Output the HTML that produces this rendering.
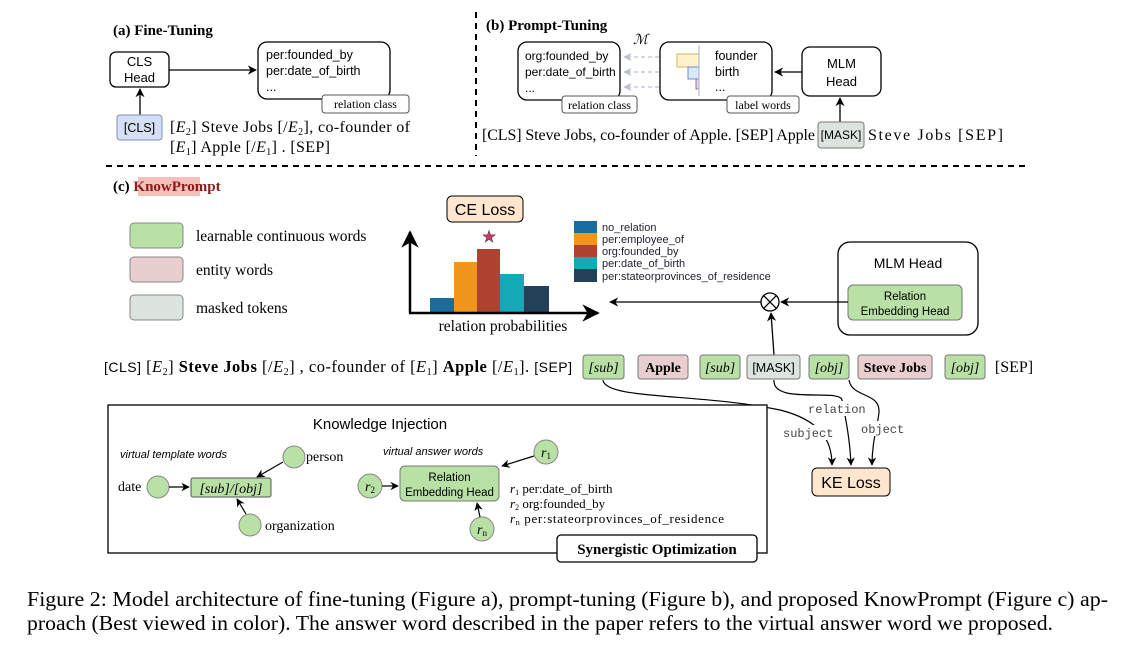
<!DOCTYPE html>
<html><head><meta charset="utf-8"><style>
html,body{margin:0;padding:0;background:#fff;}
svg{display:block;}
.s{font-family:"Liberation Serif",serif;}
.a{font-family:"Liberation Sans",sans-serif;}
.m{font-family:"Liberation Mono",monospace;}
</style></head><body>
<svg width="1148" height="661" viewBox="0 0 1148 661" xmlns="http://www.w3.org/2000/svg">
<defs>
<marker id="ar" viewBox="0 0 10 10" refX="9" refY="5" markerWidth="7" markerHeight="7" orient="auto"><path d="M0,0 L10,5 L0,10 L3,5 z" fill="#000"/></marker>
<marker id="ag" viewBox="0 0 10 10" refX="9" refY="5" markerWidth="7" markerHeight="7" orient="auto"><path d="M0,0 L10,5 L0,10 L3,5 z" fill="#b8c0cc"/></marker>
</defs>
<!-- (a) -->
<text x="113" y="35" class="s" font-size="15" font-weight="bold">(a) Fine-Tuning</text>
<rect x="110" y="52" width="59" height="35" rx="6" fill="#fff" stroke="#000" stroke-width="1.3"/>
<text x="139.5" y="66" class="a" font-size="13" text-anchor="middle">CLS</text>
<text x="139.5" y="82" class="a" font-size="13" text-anchor="middle">Head</text>
<line x1="169" y1="70" x2="256" y2="70" stroke="#000" stroke-width="1.3" marker-end="url(#ar)"/>
<rect x="258" y="42" width="132" height="57" rx="9" fill="#fff" stroke="#000" stroke-width="1.3"/>
<text x="266" y="59" class="a" font-size="12.5">per:founded_by</text>
<text x="266" y="75" class="a" font-size="12.5">per:date_of_birth</text>
<text x="266" y="91" class="a" font-size="12.5">...</text>
<rect x="322" y="95" width="87" height="18" rx="3" fill="#fff" stroke="#555"/>
<text x="365.5" y="108" class="s" font-size="12" text-anchor="middle">relation class</text>
<line x1="140" y1="115" x2="140" y2="89" stroke="#000" stroke-width="1.3" marker-end="url(#ar)"/>
<rect x="117" y="115" width="45" height="25" rx="3" fill="#d6e0f5" stroke="#7f8fb0"/>
<text x="139.5" y="132" class="a" font-size="12.5" text-anchor="middle">[CLS]</text>
<text x="170" y="132" class="s" font-size="16" textLength="240" lengthAdjust="spacing">[<tspan font-style="italic">E</tspan><tspan font-size="10" dy="3">2</tspan><tspan dy="-3">] Steve Jobs [/</tspan><tspan font-style="italic">E</tspan><tspan font-size="10" dy="3">2</tspan><tspan dy="-3">], co-founder of</tspan></text>
<text x="170" y="152" class="s" font-size="16" textLength="160" lengthAdjust="spacing">[<tspan font-style="italic">E</tspan><tspan font-size="10" dy="3">1</tspan><tspan dy="-3">] Apple [/</tspan><tspan font-style="italic">E</tspan><tspan font-size="10" dy="3">1</tspan><tspan dy="-3">] . [SEP]</tspan></text>
<line x1="476" y1="12" x2="476" y2="156" stroke="#000" stroke-width="2" stroke-dasharray="6,5"/>
<line x1="106" y1="166" x2="1030" y2="166" stroke="#000" stroke-width="2" stroke-dasharray="6,5"/>
<!-- (b) -->
<text x="486" y="30" class="s" font-size="15" font-weight="bold">(b) Prompt-Tuning</text>
<rect x="518" y="42" width="102" height="58" rx="9" fill="#fff" stroke="#000" stroke-width="1.3"/>
<text x="525" y="60" class="a" font-size="12">org:founded_by</text>
<text x="525" y="76" class="a" font-size="12">per:date_of_birth</text>
<text x="525" y="92" class="a" font-size="12">...</text>
<rect x="562" y="96" width="75" height="17" rx="3" fill="#fff" stroke="#555"/>
<text x="599.5" y="109" class="s" font-size="12" text-anchor="middle">relation class</text>
<text x="633" y="44" class="s" font-size="14" font-style="italic">ℳ</text>
<line x1="673" y1="57" x2="624" y2="57" stroke="#b8c0cc" stroke-width="1.2" stroke-dasharray="4,3" marker-end="url(#ag)"/>
<line x1="673" y1="72" x2="624" y2="72" stroke="#b8c0cc" stroke-width="1.2" stroke-dasharray="4,3" marker-end="url(#ag)"/>
<line x1="673" y1="87" x2="624" y2="87" stroke="#b8c0cc" stroke-width="1.2" stroke-dasharray="4,3" marker-end="url(#ag)"/>
<rect x="660" y="42" width="112" height="58" rx="9" fill="#fff" stroke="#000" stroke-width="1.3"/>
<rect x="677" y="54" width="22" height="13" fill="#fff2cc" stroke="#d6b656"/>
<rect x="688" y="67" width="11" height="12" fill="#dae8fc" stroke="#6c8ebf"/>
<rect x="696" y="79" width="3" height="10" fill="#e1d5e7" stroke="#9673a6"/>
<line x1="699" y1="45" x2="699" y2="96" stroke="#b0bccc" stroke-width="1.2"/>
<text x="715" y="60" class="a" font-size="12.5">founder</text>
<text x="715" y="76" class="a" font-size="12.5">birth</text>
<text x="715" y="91" class="a" font-size="12.5">...</text>
<rect x="727" y="96" width="72" height="17" rx="3" fill="#fff" stroke="#555"/>
<text x="763" y="109" class="s" font-size="12" text-anchor="middle">label words</text>
<rect x="802" y="47" width="79" height="49" rx="8" fill="#fff" stroke="#000" stroke-width="1.3"/>
<text x="841.5" y="68" class="a" font-size="13" text-anchor="middle">MLM</text>
<text x="841.5" y="86" class="a" font-size="13" text-anchor="middle">Head</text>
<line x1="802" y1="72" x2="775" y2="72" stroke="#000" stroke-width="1.3" marker-end="url(#ar)"/>
<line x1="840" y1="122" x2="840" y2="98" stroke="#000" stroke-width="1.3" marker-end="url(#ar)"/>
<text x="482" y="140" class="s" font-size="16" textLength="333" lengthAdjust="spacing">[CLS] Steve Jobs, co-founder of Apple. [SEP] Apple</text>
<rect x="818" y="122" width="46" height="26" rx="3" fill="#dde3dd" stroke="#777"/>
<text x="841" y="139" class="a" font-size="12" text-anchor="middle">[MASK]</text>
<text x="868" y="140" class="s" font-size="16" textLength="135" lengthAdjust="spacing">Steve Jobs [SEP]</text>
<!-- (c) -->
<rect x="138" y="177" width="62" height="19" fill="#f6c0b8"/>
<text x="113" y="191" class="s" font-size="15" font-weight="bold">(c) <tspan fill="#8b1a1a">KnowPrompt</tspan></text>
<rect x="130" y="223" width="53" height="25" rx="4" fill="#b9e0a5" stroke="#888"/>
<rect x="130" y="257" width="53" height="25" rx="4" fill="#e8cece" stroke="#888"/>
<rect x="130" y="295" width="53" height="25" rx="4" fill="#dde3dd" stroke="#888"/>
<text x="196" y="241" class="s" font-size="15.5">learnable continuous words</text>
<text x="196" y="275" class="s" font-size="15.5">entity words</text>
<text x="196" y="313" class="s" font-size="15.5">masked tokens</text>
<rect x="447" y="196" width="76" height="26" rx="5" fill="#ffe6cc" stroke="#000"/>
<text x="485" y="215" class="a" font-size="16" text-anchor="middle">CE Loss</text>
<text x="489" y="242" font-size="16" fill="#d6336c" text-anchor="middle" stroke="#333" stroke-width="0.5">★</text>
<rect x="430" y="298" width="24" height="15" fill="#1a6e9e"/>
<rect x="454" y="262" width="23" height="51" fill="#f0961f"/>
<rect x="477" y="249" width="23" height="64" fill="#b04232"/>
<rect x="500" y="274" width="24" height="39" fill="#14a9b5"/>
<rect x="524" y="286" width="25" height="27" fill="#24415a"/>
<line x1="410" y1="313" x2="410" y2="232" stroke="#000" stroke-width="2.5" marker-end="url(#ar)"/>
<line x1="409" y1="313" x2="598" y2="313" stroke="#000" stroke-width="2.5" marker-end="url(#ar)"/>
<text x="503" y="331" class="s" font-size="15.5" text-anchor="middle">relation probabilities</text>
<rect x="574" y="221" width="23" height="12" fill="#1a6e9e"/>
<rect x="574" y="233" width="23" height="12" fill="#f0961f"/>
<rect x="574" y="245" width="23" height="12" fill="#b04232"/>
<rect x="574" y="257" width="23" height="12" fill="#14a9b5"/>
<rect x="574" y="269" width="23" height="13" fill="#24415a"/>
<g class="a" font-size="11" fill="#223">
<text x="602" y="231">no_relation</text>
<text x="602" y="243">per:employee_of</text>
<text x="602" y="255">org:founded_by</text>
<text x="602" y="267">per:date_of_birth</text>
<text x="602" y="280">per:stateorprovinces_of_residence</text>
</g>
<line x1="761" y1="302" x2="610" y2="302" stroke="#000" stroke-width="1.3" marker-end="url(#ar)"/>
<circle cx="770" cy="302" r="9" fill="#fff" stroke="#000" stroke-width="1.3"/>
<line x1="763.6" y1="295.6" x2="776.4" y2="308.4" stroke="#000" stroke-width="1.3"/>
<line x1="776.4" y1="295.6" x2="763.6" y2="308.4" stroke="#000" stroke-width="1.3"/>
<rect x="838" y="242" width="140" height="93" rx="12" fill="#fff" stroke="#000" stroke-width="1.3"/>
<text x="908" y="268" class="a" font-size="14" text-anchor="middle">MLM Head</text>
<rect x="848" y="285" width="114" height="35" rx="5" fill="#b9e0a5" stroke="#777"/>
<text x="905" y="300" class="a" font-size="11.5" text-anchor="middle">Relation</text>
<text x="905" y="315" class="a" font-size="11.5" text-anchor="middle">Embedding Head</text>
<line x1="848" y1="302" x2="781" y2="302" stroke="#000" stroke-width="1.3" marker-end="url(#ar)"/>
<line x1="774" y1="355" x2="771" y2="313" stroke="#000" stroke-width="1.3" marker-end="url(#ar)"/>
<text x="104" y="372" class="s" font-size="16.5" textLength="468" lengthAdjust="spacing"><tspan class="a" font-size="14">[CLS]</tspan>  [<tspan font-style="italic">E</tspan><tspan font-size="10" dy="3">2</tspan><tspan dy="-3">] </tspan><tspan font-weight="bold">Steve Jobs</tspan> [/<tspan font-style="italic">E</tspan><tspan font-size="10" dy="3">2</tspan><tspan dy="-3">] , co-founder of  [</tspan><tspan font-style="italic">E</tspan><tspan font-size="10" dy="3">1</tspan><tspan dy="-3">] </tspan><tspan font-weight="bold">Apple</tspan> [/<tspan font-style="italic">E</tspan><tspan font-size="10" dy="3">1</tspan><tspan dy="-3">]. </tspan><tspan class="a" font-size="14">[SEP]</tspan></text>
<g class="s" font-size="14" text-anchor="middle">
<rect x="583" y="355" width="41" height="24" rx="3" fill="#b9e0a5" stroke="#777"/><text x="603.5" y="372" font-style="italic">[sub]</text>
<rect x="638" y="355" width="50" height="24" rx="3" fill="#e8cece" stroke="#777"/><text x="663" y="372" font-weight="bold">Apple</text>
<rect x="700" y="355" width="40" height="24" rx="3" fill="#b9e0a5" stroke="#777"/><text x="720" y="372" font-style="italic">[sub]</text>
<rect x="747" y="355" width="53" height="24" rx="3" fill="#dde3dd" stroke="#777"/><text x="773.5" y="372" class="a" font-size="12.5">[MASK]</text>
<rect x="809" y="355" width="40" height="24" rx="3" fill="#b9e0a5" stroke="#777"/><text x="829" y="372" font-style="italic">[obj]</text>
<rect x="858" y="355" width="74" height="24" rx="3" fill="#e8cece" stroke="#777"/><text x="895" y="372" font-weight="bold">Steve Jobs</text>
<rect x="945" y="355" width="40" height="24" rx="3" fill="#b9e0a5" stroke="#777"/><text x="965" y="372" font-style="italic">[obj]</text>
<text x="1014" y="372" font-size="16">[SEP]</text>
</g>
<path d="M603,380 C605,400 700,393 780,410 C820,420 832,440 832,465" fill="none" stroke="#000" stroke-width="1.2" marker-end="url(#ar)"/>
<path d="M774,380 C772,405 840,388 842,400 C846,420 850,440 851,465" fill="none" stroke="#000" stroke-width="1.2" marker-end="url(#ar)"/>
<path d="M849,380 C852,398 880,392 879,412 C878,425 872,440 872,465" fill="none" stroke="#000" stroke-width="1.2" marker-end="url(#ar)"/>
<rect x="778" y="425" width="62" height="15" fill="#fff"/>
<rect x="806" y="401" width="66" height="15" fill="#fff"/>
<rect x="858" y="421" width="52" height="15" fill="#fff"/>
<g class="m" font-size="12" fill="#444">
<text x="783" y="437">subject</text>
<text x="808" y="413">relation</text>
<text x="861" y="433">object</text>
</g>
<rect x="812" y="468" width="78" height="28" rx="5" fill="#ffe6cc" stroke="#000"/>
<text x="851" y="488" class="a" font-size="16" text-anchor="middle">KE Loss</text>
<!-- Knowledge injection -->
<rect x="108" y="405" width="659" height="148" fill="#fff" stroke="#000" stroke-width="1.3"/>
<text x="380" y="429" class="a" font-size="15" text-anchor="middle">Knowledge Injection</text>
<text x="120" y="458" class="a" font-size="11" font-style="italic">virtual template words</text>
<text x="383" y="455" class="a" font-size="11" font-style="italic">virtual answer words</text>
<g fill="#b9e0a5" stroke="#888">
<circle cx="294" cy="457" r="11"/><circle cx="158" cy="487" r="11"/><circle cx="250" cy="525" r="11"/>
<circle cx="546" cy="452" r="12"/><circle cx="370" cy="486" r="12"/><circle cx="482" cy="529" r="12"/>
</g>
<rect x="191" y="478" width="80" height="19" rx="2" fill="#b9e0a5" stroke="#555"/>
<text x="231" y="493" class="s" font-size="14" text-anchor="middle" font-style="italic">[sub]/[obj]</text>
<line x1="283" y1="462" x2="257" y2="477" stroke="#000" stroke-width="1.2" marker-end="url(#ar)"/>
<line x1="169" y1="487" x2="189" y2="487" stroke="#000" stroke-width="1.2" marker-end="url(#ar)"/>
<line x1="246" y1="514" x2="237" y2="499" stroke="#000" stroke-width="1.2" marker-end="url(#ar)"/>
<g class="s" font-size="14">
<text x="306" y="461">person</text>
<text x="118" y="491">date</text>
<text x="265" y="530">organization</text>
</g>
<rect x="400" y="466" width="99" height="35" rx="5" fill="#b9e0a5" stroke="#777"/>
<text x="449.5" y="481" class="a" font-size="11.5" text-anchor="middle">Relation</text>
<text x="449.5" y="496" class="a" font-size="11.5" text-anchor="middle">Embedding Head</text>
<line x1="534" y1="456" x2="502" y2="466" stroke="#000" stroke-width="1.2" marker-end="url(#ar)"/>
<line x1="382" y1="486" x2="398" y2="486" stroke="#000" stroke-width="1.2" marker-end="url(#ar)"/>
<line x1="480" y1="517" x2="477" y2="503" stroke="#000" stroke-width="1.2" marker-end="url(#ar)"/>
<g class="s" font-style="italic" font-size="14" text-anchor="middle">
<text x="546" y="457">r<tspan font-size="9" dy="2" font-style="normal">1</tspan></text>
<text x="370" y="491">r<tspan font-size="9" dy="2" font-style="normal">2</tspan></text>
<text x="482" y="534">r<tspan font-size="9" dy="2" font-style="normal">n</tspan></text>
</g>
<g class="s" font-size="13">
<text x="510" y="493"><tspan font-style="italic">r</tspan><tspan font-size="8" dy="2">1</tspan><tspan dy="-2"> per:date_of_birth</tspan></text>
<text x="510" y="508"><tspan font-style="italic">r</tspan><tspan font-size="8" dy="2">2</tspan><tspan dy="-2"> org:founded_by</tspan></text>
<text x="510" y="523" textLength="214" lengthAdjust="spacing"><tspan font-style="italic">r</tspan><tspan font-size="8" dy="2">n</tspan><tspan dy="-2"> per:stateorprovinces_of_residence</tspan></text>
</g>
<rect x="557" y="535" width="200" height="27" rx="4" fill="#fff" stroke="#000" stroke-width="1.3"/>
<text x="657" y="554" class="s" font-size="15" font-weight="bold" text-anchor="middle">Synergistic Optimization</text>
<!-- caption -->
<text x="27" y="606" class="s" font-size="21" textLength="1081" lengthAdjust="spacingAndGlyphs">Figure 2: Model architecture of fine-tuning (Figure a), prompt-tuning (Figure b), and proposed KnowPrompt (Figure c) ap-</text>
<text x="27" y="630" class="s" font-size="21" textLength="1026" lengthAdjust="spacingAndGlyphs">proach (Best viewed in color). The answer word described in the paper refers to the virtual answer word we proposed.</text>
</svg>
</body></html>
